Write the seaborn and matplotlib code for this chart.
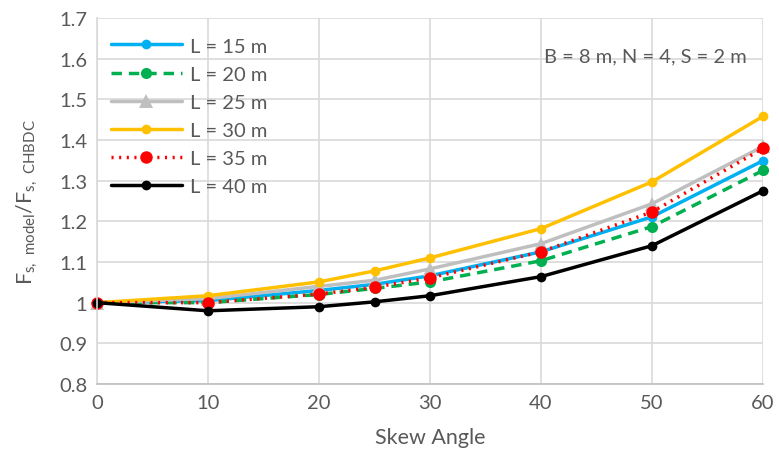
import matplotlib
matplotlib.use("Agg")
import matplotlib.pyplot as plt
import seaborn as sns
import pandas as pd

skew = [0, 10, 20, 25, 30, 40, 50, 60]
L15 = [1.000, 1.005, 1.030, 1.045, 1.066, 1.125, 1.211, 1.349]
L20 = [1.000, 1.000, 1.020, 1.035, 1.051, 1.103, 1.187, 1.325]
L25 = [1.000, 1.010, 1.040, 1.055, 1.083, 1.145, 1.243, 1.384]
L30 = [1.000, 1.017, 1.051, 1.078, 1.110, 1.182, 1.297, 1.458]
L35 = [1.000, 1.000, 1.021, 1.038, 1.061, 1.125, 1.223, 1.379]
L40 = [1.000, 0.980, 0.990, 1.002, 1.017, 1.064, 1.140, 1.275]
labels = ["L = 15 m", "L = 20 m", "L = 25 m", "L = 30 m", "L = 35 m", "L = 40 m"]
yticks = [0.8, 0.9, 1.0, 1.1, 1.2, 1.3, 1.4, 1.5, 1.6, 1.7]
ytick_labels = ["0.8", "0.9", "1", "1.1", "1.2", "1.3", "1.4", "1.5", "1.6", "1.7"]
xticks = [0, 10, 20, 30, 40, 50, 60]

sns.set_theme(style="white")
plt.rcParams['font.family'] = ['Lato', 'DejaVu Sans']
plt.rcParams['mathtext.fontset'] = 'custom'
plt.rcParams['mathtext.rm'] = 'Lato'

fig, ax = plt.subplots(figsize=(7.79, 4.60), dpi=100)
fig.subplots_adjust(left=0.1245, right=0.9795, top=0.959, bottom=0.163)

series = [L15, L20, L25, L30, L35, L40]
colors = ["#00B0F0", "#00B050", "#BFBFBF", "#FFC000", "#FF0000", "#000000"]
styles = ["-", (0, (3, 2)), "-", "-", (0, (0.6, 1.6)), "-"]
markers = ["o", "o", "^", "o", "o", "o"]
msizes = [7, 8, 10, 7, 9, 7]

for vals, lab, c, ls, m, ms in zip(series, labels, colors, styles, markers, msizes):
    df = pd.DataFrame({"skew": skew, "val": vals})
    sns.lineplot(data=df, x="skew", y="val", ax=ax, color=c, linestyle=ls,
                 marker=m, markersize=ms, markeredgewidth=0, linewidth=2.5,
                 label=lab, clip_on=False)

ax.set_xlim(0, 60)
ax.set_ylim(0.8, 1.7)
ax.set_xticks(xticks)
ax.set_yticks(yticks)
ax.set_yticklabels(ytick_labels)
ax.tick_params(axis='both', labelsize=14.5, colors="#595959", length=0, pad=7)
ax.grid(True, color="#D9D9D9", linewidth=1.2)
ax.set_axisbelow(True)
for s in ["top", "right"]:
    ax.spines[s].set_visible(False)
ax.spines["left"].set_color("#D9D9D9")
ax.spines["bottom"].set_color("#BFBFBF")
ax.spines["left"].set_linewidth(1.2)
ax.spines["bottom"].set_linewidth(1.2)

ax.set_xlabel("Skew Angle", fontsize=15.5, color="#595959", labelpad=12)
ax.set_ylabel(r"F$_{\mathrm{s,\ model}}$/F$_{\mathrm{s,\ CHBDC}}$", fontsize=15.5, color="#595959", labelpad=14)

ax.text(0.975, 0.895, "B = 8 m, N = 4, S = 2 m", transform=ax.transAxes,
        ha="right", va="center", fontsize=14.5, color="#595959")

leg = ax.legend(loc="upper left", bbox_to_anchor=(0.0, 0.985), frameon=False,
                fontsize=14.5, handlelength=3.5, labelspacing=0.55, handletextpad=0.4,
                borderaxespad=0.3)
for t in leg.get_texts():
    t.set_color("#595959")

fig.savefig("out.png", dpi=100)
